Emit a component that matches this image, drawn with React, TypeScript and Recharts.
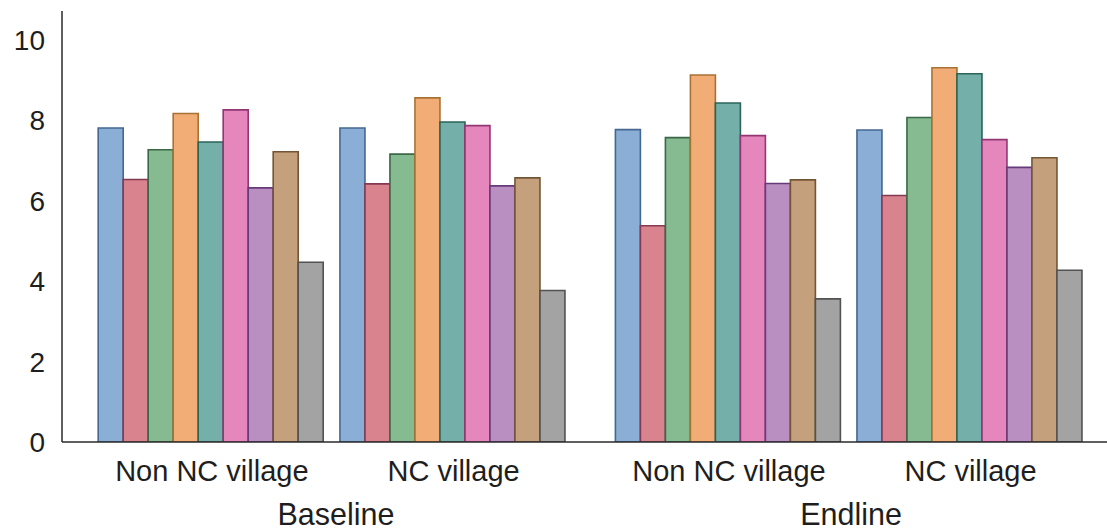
import React from 'react'
import { BarChart, Bar, XAxis, YAxis, Label } from 'recharts'

// categories
const groups = ['Non NC village', 'NC village']
const periods = ['Baseline', 'Endline']

// series values, in order: Baseline/Non NC, Baseline/NC, Endline/Non NC, Endline/NC
const s1 = [7.81, 7.81, 7.77, 7.76]
const s2 = [6.53, 6.42, 5.38, 6.13]
const s3 = [7.27, 7.16, 7.57, 8.07]
const s4 = [8.17, 8.56, 9.13, 9.31]
const s5 = [7.46, 7.96, 8.43, 9.16]
const s6 = [8.26, 7.87, 7.62, 7.52]
const s7 = [6.32, 6.37, 6.43, 6.83]
const s8 = [7.22, 6.57, 6.52, 7.07]
const s9 = [4.47, 3.77, 3.56, 4.27]

const yTicks = [0, 2, 4, 6, 8, 10]

const seriesValues = [s1, s2, s3, s4, s5, s6, s7, s8, s9]
const fills = ['#8aaed6', '#d8838e', '#86bb92', '#f2ac76', '#74b0a9', '#e587bd', '#b98fc1', '#c4a07d', '#a3a3a3']
const edges = ['#44688f', '#853a52', '#3a6846', '#a87234', '#2a645a', '#933674', '#673a79', '#735536', '#525252']

const font = '"Liberation Sans", Arial, sans-serif'
const textColor = '#1e1e1e'
const axisColor = '#2a2a2a'

function buildRows(periodIndex: number) {
  return groups.map((g, gi) => {
    const row: Record<string, string | number> = { group: g }
    seriesValues.forEach((vals, si) => {
      row[`s${si + 1}`] = vals[periodIndex * 2 + gi]
    })
    return row
  })
}

interface PanelProps {
  period: string
  periodIndex: number
  width: number
  showY: boolean
  padding: { left: number; right: number }
  labelDx: number
}

function Panel({ period, periodIndex, width, showY, padding, labelDx }: PanelProps) {
  const data = buildRows(periodIndex)
  return (
    <BarChart
      width={width}
      height={531}
      data={data}
      margin={{ top: 11, right: 0, left: 0, bottom: 0 }}
      barGap={0}
      barCategoryGap={7.2}
    >
      <XAxis
        dataKey="group"
        height={89}
        padding={padding}
        tickLine={false}
        tickMargin={12}
        axisLine={{ stroke: axisColor, strokeWidth: 1.5 }}
        tick={{ fontSize: 29, fill: textColor, fontFamily: font }}
      >
        <Label
          value={period}
          position="insideBottom"
          offset={6}
          dx={labelDx}
          style={{ fontSize: 30.5, fill: textColor, fontFamily: font }}
        />
      </XAxis>
      <YAxis
        type="number"
        domain={[0, 10.72]}
        ticks={yTicks}
        allowDataOverflow
        hide={!showY}
        width={62}
        tickLine={false}
        tickMargin={11}
        axisLine={{ stroke: axisColor, strokeWidth: 1.5 }}
        tick={{ fontSize: 28, fill: textColor, fontFamily: font }}
      />
      {seriesValues.map((_, si) => (
        <Bar
          key={si}
          dataKey={`s${si + 1}`}
          fill={fills[si]}
          stroke={edges[si]}
          strokeWidth={1.6}
          isAnimationActive={false}
        />
      ))}
    </BarChart>
  )
}

export default function App() {
  return (
    <div style={{ position: 'absolute', left: 0, top: 0, width: 1107, height: 531, display: 'flex', background: '#fff' }}>
      <Panel period={periods[0]} periodIndex={0} width={590} showY padding={{ left: 29, right: 15.5 }} labelDx={10} />
      <Panel period={periods[1]} periodIndex={1} width={517} showY={false} padding={{ left: 18.2, right: 15.7 }} labelDx={2.5} />
    </div>
  )
}
